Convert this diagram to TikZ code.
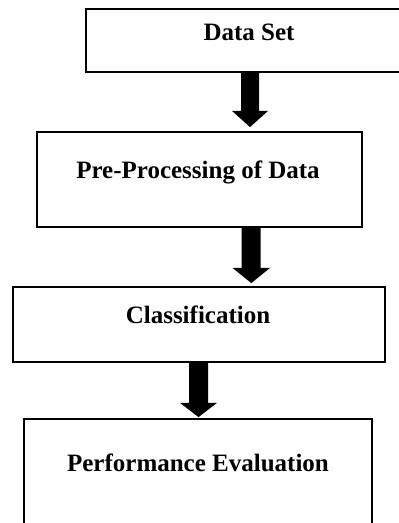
\documentclass[tikz,border=0pt]{standalone}
\usepackage{fontspec}
\setmainfont{Liberation Serif}
\usetikzlibrary{calc}
\begin{document}
\begin{tikzpicture}[x=1pt,y=-1pt,
  box/.style={draw=black,line width=1.8pt,fill=white,inner sep=0pt,minimum width=#1},
  lbl/.style={font=\bfseries\fontsize{25}{28}\selectfont,inner sep=0pt,anchor=center},
  blockarrow/.style={fill=black}]
\useasboundingbox (0,0) rectangle (399,523);
\clip (0,0) rectangle (399,523);
% boxes
\node[box=316pt,minimum height=63pt] (b1) at (244,40.5) {};
\node[box=325pt,minimum height=95pt] (b2) at (199.5,179.5) {};
\node[box=372pt,minimum height=75pt] (b3) at (199,324.5) {};
\node[box=348pt,minimum height=130pt] (b4) at (198,484) {};
% texts
\node[lbl] (t1) at (249,32) {Data Set};
\node[lbl] (t2) at (198,172) {Pre-Processing of Data};
\node[lbl] (t3) at (198,315) {Classification};
\node[lbl] (t4) at (198,463) {Performance Evaluation};
% block arrows
\fill[blockarrow] ($(b1.south)+(-3,0)$) -- ($(b1.south)+(15,0)$) -- ($(b1.south)+(15,38)$)
  -- ($(b1.south)+(24,38)$) -- ($(b2.north)+(50.5,-4)$) -- ($(b1.south)+(-12,38)$)
  -- ($(b1.south)+(-3,38)$) -- cycle;
\fill[blockarrow] ($(b2.south)+(42,0)$) -- ($(b2.south)+(61,0)$) -- ($(b2.south)+(61,40)$)
  -- ($(b2.south)+(70.5,40)$) -- ($(b3.north)+(52.3,-3)$) -- ($(b2.south)+(33,40)$)
  -- ($(b2.south)+(42,40)$) -- cycle;
\fill[blockarrow] ($(b3.south)+(-10,0)$) -- ($(b3.south)+(9,0)$) -- ($(b3.south)+(9,40)$)
  -- ($(b3.south)+(18,40)$) -- ($(b4.north)+(0.5,-1)$) -- ($(b3.south)+(-19,40)$)
  -- ($(b3.south)+(-10,40)$) -- cycle;
\end{tikzpicture}
\end{document}
